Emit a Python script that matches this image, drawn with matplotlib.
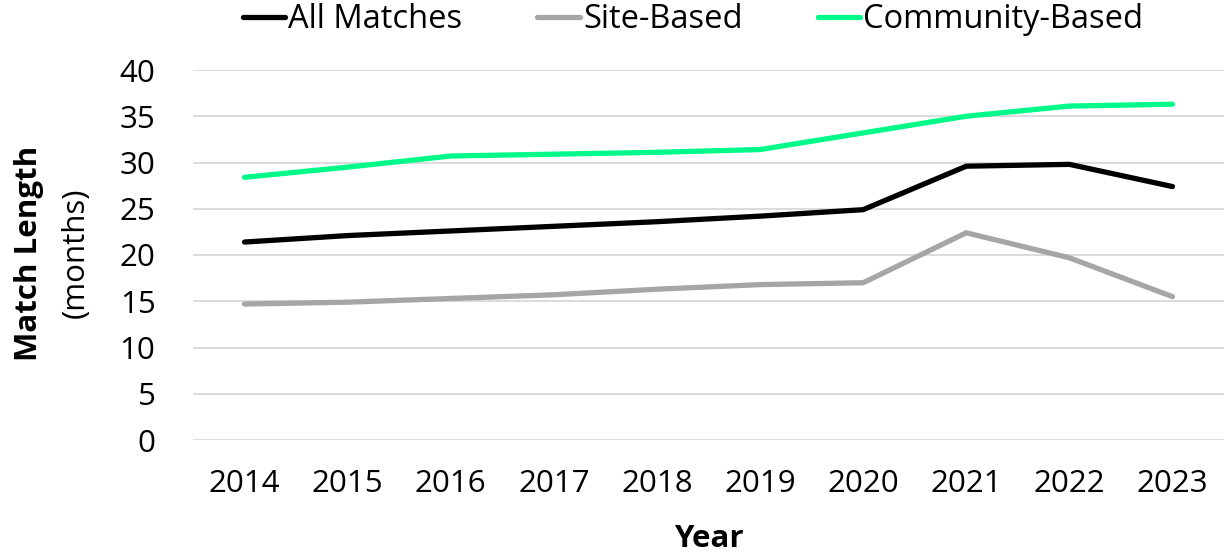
import matplotlib.pyplot as plt

years = ['2014', '2015', '2016', '2017', '2018', '2019', '2020', '2021', '2022', '2023']
all_matches = [21.4, 22.1, 22.6, 23.1, 23.6, 24.2, 24.9, 29.6, 29.8, 27.4]
site_based = [14.7, 14.9, 15.3, 15.7, 16.3, 16.8, 17.0, 22.4, 19.7, 15.5]
community_based = [28.4, 29.5, 30.7, 30.9, 31.1, 31.4, 33.2, 35.0, 36.1, 36.3]

plt.rcParams['font.family'] = ['Open Sans', 'DejaVu Sans']

fig = plt.figure(figsize=(12.24, 5.57), dpi=100)
ax = fig.add_axes([193 / 1224, 1 - 440 / 557, 1031 / 1224, 370 / 557])

x = range(len(years))
ax.plot(x, all_matches, color='black', lw=3.8, solid_capstyle='round', label='All Matches')
ax.plot(x, site_based, color='#A6A6A6', lw=3.8, solid_capstyle='round', label='Site-Based')
ax.plot(x, community_based, color='#00FA8A', lw=3.8, solid_capstyle='round', label='Community-Based')

ax.set_xlim(-0.5, len(years) - 0.5)
ax.set_ylim(0, 40)
ax.set_yticks(range(0, 41, 5))
ax.set_xticks(list(x))
ax.set_xticklabels(years)
ax.tick_params(axis='both', length=0, labelsize=22.5)
ax.tick_params(axis='x', pad=21)
ax.tick_params(axis='y', pad=27)
ax.grid(axis='y', color='#D9D9D9', lw=1.3)
ax.set_axisbelow(True)
for s in ax.spines.values():
    s.set_visible(False)

ax.set_xlabel('Year', fontsize=22.5, fontweight='bold', labelpad=18)

fig.text(29 / 1224, 1 - 253 / 557, 'Match Length', rotation=90, fontsize=22.5,
         fontweight='bold', ha='center', va='center')
fig.text(76 / 1224, 1 - 253 / 557, '(months)', rotation=90, fontsize=22.5,
         ha='center', va='center')

fig.legend(loc='center', bbox_to_anchor=(693 / 1224, 1 - 20 / 557), ncol=3,
           frameon=False, fontsize=23.5, handlelength=1.3, handletextpad=0.1,
           columnspacing=2.3)

fig.savefig('out.png', dpi=100)
